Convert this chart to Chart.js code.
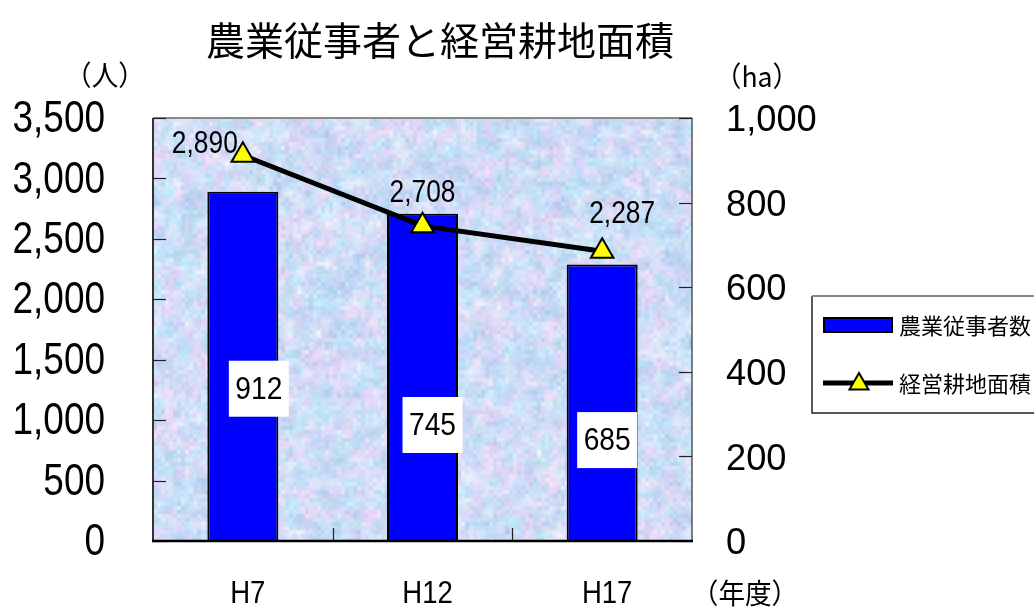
<!DOCTYPE html>
<html><head><meta charset="utf-8">
<script src="https://cdn.jsdelivr.net/npm/chart.js@4.4.1/dist/chart.umd.min.js"></script>
<style>html,body{margin:0;padding:0;background:#fff}#wrap{width:1034px;height:610px;position:relative}</style>
</head><body><div id="wrap"><canvas id="c"></canvas></div>
<script>
// ---- data ----
const categories = ['H7', 'H12', 'H17'];
const farmWorkers = [2890, 2708, 2287];      // 農業従事者数 (人)
const farmlandArea = [912, 745, 685];        // 経営耕地面積 (ha)
const leftTickValues = [0, 500, 1000, 1500, 2000, 2500, 3000, 3500];
const rightTickValues = [0, 200, 400, 600, 800, 1000];
const titleText = '農業従事者と経営耕地面積';
const seriesNames = ['農業従事者数', '経営耕地面積'];
const leftUnit = '（人）';
const rightUnit = '（ha）';
const xUnit = '（年度）';

// ---- label placement (layout only) ----
const workerLabelOffset = [[-38, -11], [0, -32], [20, -37]];
const areaBoxAnchor = [1260, 960, 835];      // on left axis
const areaBoxDx = [16, 10, 5];

const SANS = "'Liberation Sans','Noto Sans CJK JP',sans-serif";
const CJK = "'Noto Sans CJK JP','Liberation Sans',sans-serif";
const fmt = v => Number(v).toLocaleString('en-US');

function ctext(ctx, text, x, y, size, sx, align, family) {
  ctx.save();
  ctx.translate(x, y);
  ctx.scale(sx, 1);
  ctx.font = `${size}px ${family || SANS}`;
  ctx.textAlign = align || 'center';
  ctx.textBaseline = 'middle';
  ctx.fillText(text, 0, 0);
  ctx.restore();
}

let texture = null;
function makeTexture(w, h) {
  let s = 987654321;
  const rnd = () => { s = (s * 1103515245 + 12345) & 0x7fffffff; return s / 0x7fffffff; };
  const pal = [[184,222,250],[214,206,244],[236,212,248],[190,236,252],[240,242,252],[180,202,240],[216,230,252],[244,218,248],[200,230,246],[176,214,236]];
  const cw = Math.ceil(w / 10), ch = Math.ceil(h / 10);
  const small = document.createElement('canvas'); small.width = cw; small.height = ch;
  const sg = small.getContext('2d');
  for (let y = 0; y < ch; y++) for (let x = 0; x < cw; x++) {
    const p = pal[Math.floor(rnd() * pal.length)];
    sg.fillStyle = `rgb(${p[0]},${p[1]},${p[2]})`;
    sg.fillRect(x, y, 1, 1);
  }
  const c = document.createElement('canvas'); c.width = w; c.height = h;
  const g = c.getContext('2d');
  g.imageSmoothingEnabled = true;
  g.drawImage(small, 0, 0, cw * 10, ch * 10);
  for (let y = 0; y < h; y += 4) for (let x = 0; x < w; x += 4) {
    const p = pal[Math.floor(rnd() * pal.length)];
    const j = (rnd() - 0.5) * 20;
    g.fillStyle = `rgba(${(p[0]+j)|0},${(p[1]+j)|0},${(p[2]+j)|0},0.4)`;
    g.fillRect(x, y, 4, 4);
  }
  return c;
}

function drawTriangle(ctx, x, y, r) {
  ctx.beginPath();
  ctx.moveTo(x, y - r);
  ctx.lineTo(x + Math.sin(2*Math.PI/3) * r, y + 0.5 * r);
  ctx.lineTo(x - Math.sin(2*Math.PI/3) * r, y + 0.5 * r);
  ctx.closePath();
  ctx.fillStyle = '#ffff00'; ctx.fill();
  ctx.lineWidth = 2; ctx.strokeStyle = '#000'; ctx.stroke();
}

const decor = {
  id: 'decor',
  beforeDatasetsDraw(chart) {
    const { ctx, chartArea: a, scales } = chart;
    const w = Math.round(a.right - a.left), h = Math.round(a.bottom - a.top);
    if (!texture || texture.width !== w || texture.height !== h) texture = makeTexture(w, h);
    ctx.save();
    ctx.drawImage(texture, a.left, a.top);
    ctx.lineWidth = 2;
    ctx.strokeStyle = '#8a8a8a';
    ctx.beginPath(); ctx.moveTo(a.left, a.top); ctx.lineTo(a.right, a.top); ctx.stroke();
    ctx.strokeStyle = '#555';
    ctx.lineWidth = 1.5;
    ctx.beginPath(); ctx.moveTo(a.right, a.top); ctx.lineTo(a.right, a.bottom); ctx.stroke();
    ctx.strokeStyle = '#333';
    ctx.lineWidth = 2;
    ctx.beginPath(); ctx.moveTo(a.left, a.top); ctx.lineTo(a.left, a.bottom); ctx.stroke();
    ctx.lineWidth = 1.2; ctx.strokeStyle = '#222';
    leftTickValues.forEach(v => {
      const y = Math.round(scales.y.getPixelForValue(v)) + 0.5;
      ctx.beginPath(); ctx.moveTo(a.left, y); ctx.lineTo(a.left + 13, y); ctx.stroke();
    });
    rightTickValues.forEach(v => {
      const y = Math.round(scales.y1.getPixelForValue(v)) + 0.5;
      ctx.beginPath(); ctx.moveTo(a.right, y); ctx.lineTo(a.right - 13, y); ctx.stroke();
    });
    for (let i = 0; i < categories.length - 1; i++) {
      const x = Math.round((scales.x.getPixelForValue(i) + scales.x.getPixelForValue(i + 1)) / 2) + 0.5;
      ctx.beginPath(); ctx.moveTo(x, a.bottom); ctx.lineTo(x, a.bottom - 13); ctx.stroke();
    }
    ctx.restore();
  },
  afterDatasetsDraw(chart) {
    const { ctx, chartArea: a, scales } = chart;
    ctx.save();
    ctx.strokeStyle = '#000'; ctx.lineWidth = 2.5;
    ctx.beginPath(); ctx.moveTo(a.left - 1, a.bottom); ctx.lineTo(a.right + 1, a.bottom); ctx.stroke();
    ctx.fillStyle = '#000';
    const lineMeta = chart.getDatasetMeta(1);
    farmWorkers.forEach((v, i) => {
      const p = lineMeta.data[i];
      ctext(ctx, fmt(v), p.x + workerLabelOffset[i][0], p.y + workerLabelOffset[i][1], 31, 0.85);
    });
    const barMeta = chart.getDatasetMeta(0);
    farmlandArea.forEach((v, i) => {
      const cx = barMeta.data[i].x + areaBoxDx[i];
      const cy = scales.y.getPixelForValue(areaBoxAnchor[i]);
      ctx.fillStyle = '#fff';
      ctx.fillRect(cx - 30, cy - 28, 60, 56);
      ctx.fillStyle = '#000';
      ctext(ctx, fmt(v), cx, cy + 1, 32, 0.88);
    });
    ctx.restore();
  },
  afterDraw(chart) {
    const { ctx, chartArea: a, scales } = chart;
    ctx.save();
    ctx.fillStyle = '#000';
    leftTickValues.forEach(v => ctext(ctx, fmt(v), 105, scales.y.getPixelForValue(v) + 2, 44, 0.84, 'right'));
    rightTickValues.forEach(v => ctext(ctx, fmt(v), 726, scales.y1.getPixelForValue(v) + 3, 37, 0.98, 'left'));
    categories.forEach((c, i) => ctext(ctx, c, scales.x.getPixelForValue(i) + 5, 594, 32, 0.86));
    ctext(ctx, titleText, 440, 40, 39, 1, 'center', CJK);
    ctext(ctx, leftUnit, 105, 75, 28, 0.95, 'center', CJK);
    ctext(ctx, rightUnit, 757, 76, 28, 0.95, 'center', CJK);
    ctext(ctx, xUnit, 745, 593, 28, 0.95, 'center', CJK);
    // legend
    const lx = 812, ly = 296, lw = 240, lh = 117;
    ctx.fillStyle = '#fff';
    ctx.fillRect(lx, ly, lw, lh);
    ctx.lineWidth = 1.5;
    ctx.strokeStyle = '#222';
    ctx.beginPath(); ctx.moveTo(lx, ly); ctx.lineTo(lx, ly + lh); ctx.lineTo(lx + lw, ly + lh); ctx.stroke();
    ctx.strokeStyle = '#8a8a8a'; ctx.lineWidth = 2;
    ctx.beginPath(); ctx.moveTo(lx, ly); ctx.lineTo(lx + lw, ly); ctx.stroke();
    ctx.fillStyle = '#0000ff';
    ctx.fillRect(824, 318, 68, 14);
    ctx.strokeStyle = '#000'; ctx.lineWidth = 2;
    ctx.strokeRect(824, 318, 68, 14);
    ctx.lineWidth = 5;
    ctx.beginPath(); ctx.moveTo(823, 383); ctx.lineTo(893, 383); ctx.stroke();
    drawTriangle(ctx, 859, 384, 11);
    ctx.fillStyle = '#000';
    ctext(ctx, seriesNames[0], 899, 326, 22, 1, 'left', CJK);
    ctext(ctx, seriesNames[1], 899, 384, 22, 1, 'left', CJK);
    ctx.restore();
  }
};

new Chart(document.getElementById('c'), {
  data: {
    labels: categories,
    datasets: [
      {
        type: 'bar', label: seriesNames[0], data: farmWorkers, yAxisID: 'y', order: 1,
        backgroundColor: '#0000ff', borderColor: '#000', borderWidth: 2,
        barPercentage: 0.395, categoryPercentage: 1
      },
      {
        type: 'line', label: seriesNames[1], data: farmlandArea, yAxisID: 'y1', order: 0,
        borderColor: '#000', borderWidth: 5, tension: 0,
        pointStyle: 'triangle', pointRadius: 13, pointBackgroundColor: '#ffff00',
        pointBorderColor: '#000', pointBorderWidth: 2
      }
    ]
  },
  options: {
    responsive: true, maintainAspectRatio: false, animation: false,
    layout: { padding: { top: 118, left: 0, right: 0, bottom: 0 } },
    plugins: { legend: { display: false }, title: { display: false }, tooltip: { enabled: false } },
    scales: {
      x: {
        grid: { display: false, drawTicks: false }, border: { display: false },
        ticks: { display: false },
        afterFit(s) { s.height = 69; }
      },
      y: {
        position: 'left', min: leftTickValues[0], max: leftTickValues[leftTickValues.length - 1],
        grid: { display: false, drawTicks: false }, border: { display: false },
        ticks: { display: false, stepSize: leftTickValues[1] - leftTickValues[0] },
        afterFit(s) { s.width = 153; }
      },
      y1: {
        position: 'right', min: rightTickValues[0], max: rightTickValues[rightTickValues.length - 1],
        grid: { display: false, drawTicks: false }, border: { display: false },
        ticks: { display: false, stepSize: rightTickValues[1] - rightTickValues[0] },
        afterFit(s) { s.width = 342; }
      }
    }
  },
  plugins: [decor]
});
</script></body></html>
